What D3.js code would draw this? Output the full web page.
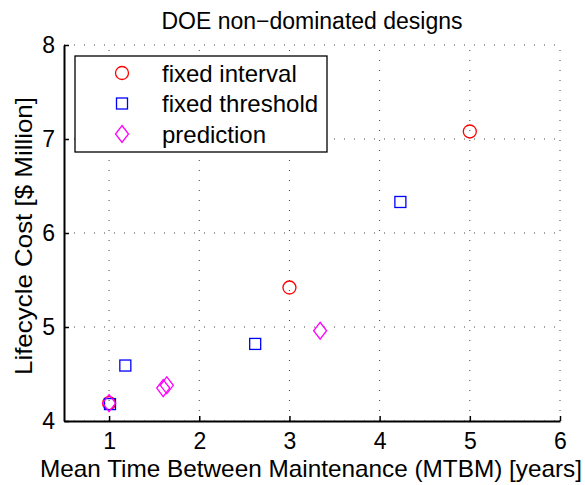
<!DOCTYPE html>
<html>
<head>
<meta charset="utf-8">
<script src="https://cdn.jsdelivr.net/npm/d3@7"></script>
<style>
  body { margin: 0; background: #fff; }
  text { font-family: "Liberation Sans", Arial, sans-serif; fill: #000; }
</style>
</head>
<body>
<svg width="585" height="485"></svg>
<script>
// data
var intervalX = [1, 3, 5];
var intervalY = [4.19, 5.42, 7.08];
var thresholdX = [1.01, 1.18, 2.62, 4.23];
var thresholdY = [4.18, 4.59, 4.82, 6.33];
var predictionX = [1.0, 1.60, 1.64, 3.34];
var predictionY = [4.19, 4.35, 4.38, 4.96];
var xTicks = [1, 2, 3, 4, 5, 6];
var yTicks = [4, 5, 6, 7, 8];
var seriesNames = ["fixed interval", "fixed threshold", "prediction"];

var svg = d3.select("svg");
var margin = {left: 64, right: 25, top: 45, bottom: 64};
var w = 585 - margin.left - margin.right;
var h = 485 - margin.top - margin.bottom;

var x = d3.scaleLinear().domain([0.5, 6]).range([0, w]);
var y = d3.scaleLinear().domain([4, 8]).range([h, 0]);

var g = svg.append("g").attr("transform", "translate(" + margin.left + "," + margin.top + ")");

// dotted grid
g.selectAll(".gx").data(xTicks).enter().append("line")
  .attr("x1", function(d){ return x(d); }).attr("x2", function(d){ return x(d); })
  .attr("y1", h).attr("y2", 0)
  .style("stroke", "#444").style("stroke-width", 1).style("stroke-dasharray", "1,9");
g.selectAll(".gy").data(yTicks).enter().append("line")
  .attr("y1", function(d){ return y(d); }).attr("y2", function(d){ return y(d); })
  .attr("x1", 0).attr("x2", w)
  .style("stroke", "#444").style("stroke-width", 1).style("stroke-dasharray", "1,9");

// axes (ticks inward)
var xAxis = g.append("g").attr("transform", "translate(0," + h + ")")
  .call(d3.axisBottom(x).tickValues(xTicks).tickFormat(d3.format("d")).tickSizeInner(-5).tickSizeOuter(0).tickPadding(8));
var yAxis = g.append("g")
  .call(d3.axisLeft(y).tickValues(yTicks).tickFormat(d3.format("d")).tickSizeInner(-5).tickSizeOuter(0).tickPadding(9));
[xAxis, yAxis].forEach(function(a){
  a.select(".domain").style("stroke", "#000").style("stroke-width", 2);
  a.selectAll(".tick line").style("stroke", "#000").style("stroke-width", 1.5);
  a.selectAll("text").style("font-size", "23px").style("font-family", "Liberation Sans, Arial, sans-serif");
});
xAxis.selectAll("text").attr("dy", "0.85em");

function drawMarker(sel, type, color) {
  if (type == 0) {
    sel.append("circle").attr("r", 6.5)
      .style("fill", "none").style("stroke", color).style("stroke-width", 1.3);
  } else if (type == 1) {
    sel.append("rect").attr("x", -5.5).attr("y", -5.5).attr("width", 11).attr("height", 11)
      .style("fill", "none").style("stroke", color).style("stroke-width", 1.3);
  } else {
    sel.append("path").attr("d", "M0,-8.5L6.5,0L0,8.5L-6.5,0Z")
      .style("fill", "none").style("stroke", color).style("stroke-width", 1.3);
  }
}

var colors = ["#ff0000", "#0000ff", "#ff00ff"];
var series = [[intervalX, intervalY], [thresholdX, thresholdY], [predictionX, predictionY]];
series.forEach(function(s, k){
  s[0].forEach(function(xv, i){
    var m = g.append("g").attr("transform", "translate(" + x(xv) + "," + y(s[1][i]) + ")");
    drawMarker(m, k, colors[k]);
  });
});

// legend
var lg = svg.append("g").attr("transform", "translate(75,56)");
lg.append("rect").attr("width", 252).attr("height", 96)
  .style("fill", "#fff").style("stroke", "#000").style("stroke-width", 1.3);
seriesNames.forEach(function(name, k){
  var row = lg.append("g").attr("transform", "translate(47," + (17 + k * 30.5) + ")");
  drawMarker(row, k, colors[k]);
  row.append("text").attr("x", 40).attr("y", 0).attr("dy", "0.36em")
    .style("font-size", "24px").text(name);
});

// title and labels
svg.append("text").attr("x", margin.left + w / 2).attr("y", 29)
  .attr("text-anchor", "middle").style("font-size", "23px")
  .text("DOE non\u2212dominated designs");
svg.append("text").attr("x", 311).attr("y", 477)
  .attr("text-anchor", "middle").style("font-size", "24px")
  .attr("textLength", 542).attr("lengthAdjust", "spacingAndGlyphs")
  .text("Mean Time Between Maintenance (MTBM) [years]");
svg.append("text").attr("transform", "translate(32,236) rotate(-90)")
  .attr("text-anchor", "middle").style("font-size", "24px")
  .attr("textLength", 278).attr("lengthAdjust", "spacingAndGlyphs")
  .text("Lifecycle Cost [$ Million]");
</script>
</body>
</html>
